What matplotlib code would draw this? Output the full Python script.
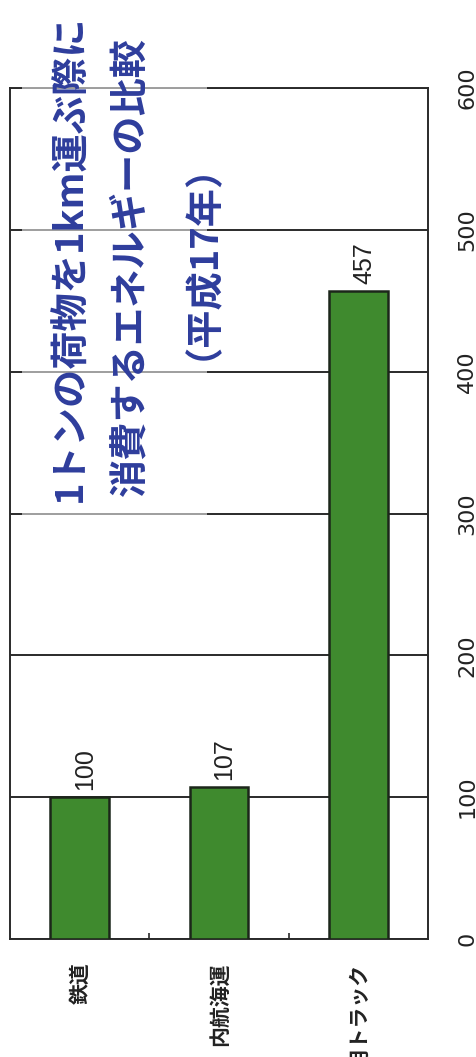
import matplotlib
matplotlib.use("Agg")
import matplotlib.pyplot as plt
from matplotlib.patches import Rectangle

categories = ["鉄道", "内航海運", "営業用トラック"]
values = [100, 107, 457]
value_ticks = [0, 100, 200, 300, 400, 500, 600]
title_lines = ["1トンの荷物を1km運ぶ際に", "消費するエネルギーの比較", "（平成17年）"]

W, H = 476, 1057
fig = plt.figure(figsize=(W / 100, H / 100), dpi=100)
fig.patch.set_facecolor("white")

# axes frame in pixel terms
left, right, top, bottom = 10, 428, 88, 939
ax = fig.add_axes([left / W, (H - bottom) / H, (right - left) / W, (bottom - top) / H])

bar_color = "#3f8a2e"
edge_color = "#1c261a"
grid_color = "#2a2a2a"
title_color = "#2e3d9c"

x = list(range(len(categories)))
ax.bar(x, values, width=0.42, color=bar_color, edgecolor=edge_color, linewidth=1.8, zorder=3)

ax.set_xlim(-0.5, len(categories) - 0.5)
ax.set_ylim(value_ticks[0], value_ticks[-1])

# horizontal gridlines at every tick
ax.set_yticks(value_ticks)
ax.yaxis.grid(True, color=grid_color, linewidth=1.4, zorder=1)
ax.set_axisbelow(True)

# value tick labels on the right, rotated
ax.yaxis.tick_right()
ax.tick_params(axis="y", length=0, pad=21, labelsize=16, labelcolor="#222222")
for lab in ax.get_yticklabels():
    lab.set_rotation(90)
    lab.set_fontfamily("DejaVu Sans")
    lab.set_va("center")

# category labels, rotated and hanging below the axis
ax.set_xticks(x)
ax.set_xticklabels(categories, rotation=90, va="top", ha="center",
                   fontfamily=["Noto Sans CJK JP", "DejaVu Sans"], fontweight="bold",
                   fontsize=15, color="#222222")
ax.tick_params(axis="x", which="major", length=0, pad=17)
ax.set_xticks([i + 0.5 for i in x[:-1]], minor=True)
ax.tick_params(axis="x", which="minor", direction="in", length=4, width=1.2, color=grid_color)

for side in ["left", "right", "top", "bottom"]:
    ax.spines[side].set_color(grid_color)
    ax.spines[side].set_linewidth(1.4)

# value labels above each bar
for xi, v in zip(x, values):
    ax.annotate(str(v), (xi, v), xytext=(4, 5), textcoords="offset points",
                rotation=90, ha="center", va="bottom",
                fontfamily="Liberation Sans", fontsize=18, color="#222222", zorder=4)

# faded backdrop behind the title
fig.add_artist(Rectangle((22 / W, (H - 525) / H), (207 - 22) / W, (525 - 80) / H,
                         transform=fig.transFigure, facecolor="white", edgecolor="none",
                         alpha=0.55, zorder=2))

# title, three rotated lines
title_pos = [(70, 258), (130, 267), (182, 242)]
for line, (px, py) in zip(title_lines, title_pos):
    fig.text(px / W, (H - py) / H, line, rotation=90, ha="center", va="center",
             fontfamily=["Noto Sans CJK JP", "DejaVu Sans"], fontweight="bold",
             fontsize=27.5, color=title_color, zorder=5)

fig.savefig("out.png", dpi=100, facecolor="white")
